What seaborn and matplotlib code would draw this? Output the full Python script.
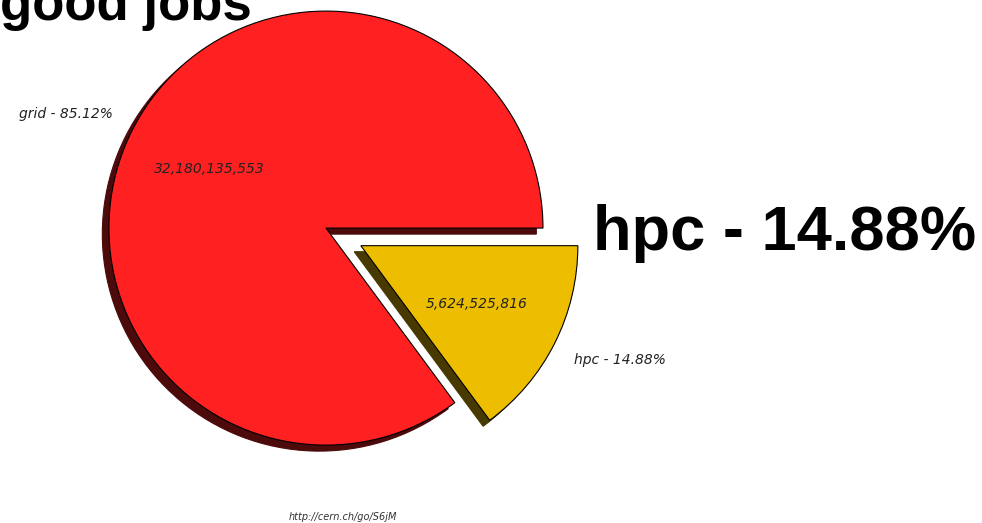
import matplotlib
matplotlib.use("Agg")
import matplotlib.pyplot as plt
import matplotlib.patches as mpatches
import seaborn as sns

# Job counts per resource type
categories = ["grid", "hpc"]
job_counts = [32180135553, 5624525816]
slice_colors = ["#FF2121", "#EDBE00"]
explode_by_slice = [0.0, 0.18]

title_text = "good jobs"
footer_text = "http://cern.ch/go/S6jM"

sns.set_theme(style="white")
plt.rcParams["font.family"] = ["DejaVu Sans"]

total = sum(job_counts)
shares = [100.0 * v / total for v in job_counts]
slice_labels = [f"{c} - {s:.2f}%" for c, s in zip(categories, shares)]

fig = plt.figure(figsize=(9.82, 5.23), dpi=100)
fig.patch.set_facecolor("white")
ax = fig.add_axes([0, 0, 1, 1])

wedges, texts, autotexts = ax.pie(
    job_counts,
    labels=slice_labels,
    colors=slice_colors,
    explode=explode_by_slice,
    startangle=0,
    counterclock=True,
    shadow={"ox": -0.022, "oy": -0.02, "shade": 0.7},
    autopct=lambda p: "",
    pctdistance=0.6,
    labeldistance=1.1,
    wedgeprops={"edgecolor": "black", "linewidth": 0.8},
    textprops={"fontsize": 10, "style": "italic", "color": "#222222"},
)
for t, v in zip(autotexts, job_counts):
    t.set_text(f"{v:,}")

# outer labels sit away from the pie vertically
for t in texts:
    t.set_verticalalignment("bottom" if t.get_position()[1] > 0 else "top")

# solid drop shadows
for p in ax.patches:
    if isinstance(p, mpatches.Shadow):
        p.set_alpha(1.0)

# Pie of radius 1 centred so that it sits left of the headline text
ax.set_aspect("auto")
ax.set_xlim(-1.502, 3.023)
ax.set_ylim(-1.359, 1.051)
ax.axis("off")

fig.text(0.0, 1 - 20 / 523, title_text, ha="left", va="baseline",
         fontsize=38, fontweight="bold", family="Liberation Sans", color="black")
fig.text(593 / 982, 1 - 250 / 523, slice_labels[1], ha="left", va="baseline",
         fontsize=45.5, fontweight="bold", family="Liberation Sans", color="black")
fig.text(343 / 982, 1 - 517 / 523, footer_text, ha="center", va="center",
         fontsize=7, style="italic", color="#333333")

fig.savefig("out.png", dpi=100, facecolor="white")
